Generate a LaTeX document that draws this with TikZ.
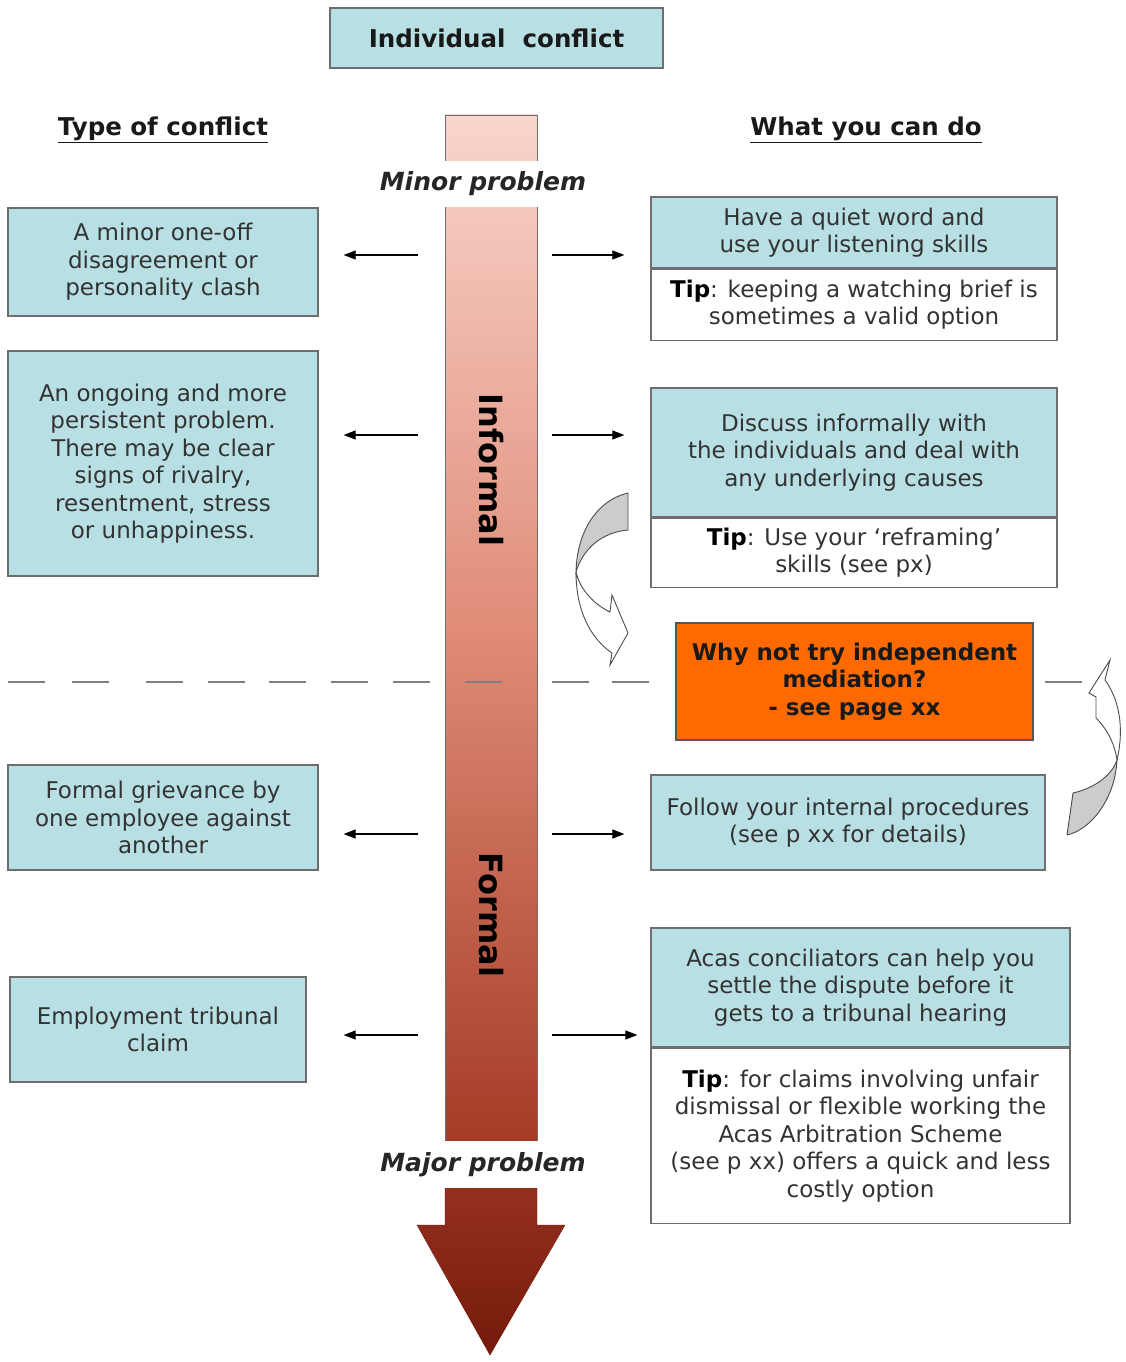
\documentclass[tikz,border=0pt]{standalone}
\usepackage{fontspec}
\setmainfont{DejaVu Sans}
\usetikzlibrary{arrows.meta,positioning}

\definecolor{boxblue}{HTML}{B8DFE3}
\definecolor{boxline}{HTML}{6E6E6E}
\definecolor{bodytext}{HTML}{333333}
\definecolor{mediation}{HTML}{FF6A00}
\definecolor{bartop}{HTML}{F9D5CD}
\definecolor{barmid}{HTML}{E08C78}
\definecolor{barbot}{HTML}{A53C26}
\definecolor{headtop}{HTML}{953020}
\definecolor{headbot}{HTML}{741A0A}

\newcommand\tiplabel{\textcolor{black}{\textbf{Tip}}:}

\tikzset{
  every node/.style={font=\fontsize{23}{27.5}\selectfont, text=bodytext},
  bluebox/.style={draw=boxline, fill=boxblue, line width=1.2pt, align=center, inner sep=0pt},
  tipbox/.style={bluebox, fill=white},
  heading/.style={font=\bfseries\fontsize{24.5}{28}\selectfont, text=black!90},
  scalelabel/.style={font=\bfseries\itshape\fontsize{25}{28}\selectfont, text=black!85, fill=white, inner xsep=2pt},
  stage/.style={rotate=-90, font=\bfseries\fontsize{32}{36}\selectfont, text=black},
  conn/.style={-{Triangle[length=12pt,width=9pt]}, line width=1.1pt},
  divider/.style={draw=gray, line width=1.3pt},
  twist/.style={draw=gray!60!black, line width=0.9pt}
}

\begin{document}
\begin{tikzpicture}[
      x=1pt, y=-1pt % pixel grid, y downwards
  ]
\useasboundingbox (0,0) rectangle (1126,1362);

% headings
\node[bluebox, minimum width=333, minimum height=60, heading] (title) at (496.5,38) {Individual\ \ conflict};
\node[heading] (typehd) at (163,130) {\underline{Type of conflict}};
\node[heading] (whathd) at (866,130) {\underline{What you can do}};

% the scale from minor to major
\node[draw=boxline, top color=bartop, bottom color=barbot, middle color=barmid,
      minimum width=92, minimum height=1026, inner sep=0pt] (bar) at (491,628) {};
\shade[top color=headtop, bottom color=headbot, draw=headbot]
  (445,1188) -- (537,1188) -- (537,1225) -- (565,1225) -- (490,1355) -- (417,1225) -- (445,1225) -- cycle;
\node[scalelabel, minimum height=46] (minor) at (483,184) {Minor problem};
\node[scalelabel, minimum height=47] (major) at (483,1164.5) {Major problem};
\node[stage] (informal) at (491,470) {Informal};
\node[stage] (formal) at (491,915) {Formal};

% informal / formal divide
\foreach \xa in {8,72,146,208,269,331,393,465,552,612,1045}
  \draw[divider] (\xa,682) -- ++(37,0);

% type of conflict
\node[bluebox, minimum width=310, minimum height=108] (lb1) at (163,262) {A minor one-off\\disagreement or\\personality clash};
\node[bluebox, minimum width=310, minimum height=225] (lb2) at (163,463.5) {An ongoing and more\\persistent problem.\\There may be clear\\signs of rivalry,\\resentment, stress\\or unhappiness.};
\node[bluebox, minimum width=310, minimum height=105] (lb3) at (163,817.5) {Formal grievance by\\one employee against\\another};
\node[bluebox, minimum width=296, minimum height=105] (lb4) at (158,1029.5) {Employment tribunal\\claim};

% what you can do
\node[bluebox, minimum width=406, minimum height=71] (rb1) at (854,232.5) {Have a quiet word and\\use your listening skills};
\node[tipbox, minimum width=406, minimum height=71, below=0pt of rb1] (tip1) {\tiplabel{} keeping a watching brief is\\sometimes a valid option};
\node[bluebox, minimum width=406, minimum height=129] (rb2) at (854,452.5) {Discuss informally with\\the individuals and deal with\\any underlying causes};
\node[tipbox, minimum width=406, minimum height=69, below=0pt of rb2] (tip2) {\tiplabel{} Use your ‘reframing’\\skills (see px)};
\node[bluebox, fill=mediation, draw=boxline!80!black, minimum width=357, minimum height=117,
      font=\bfseries\fontsize{23}{27.5}\selectfont, text=black!90] (med) at (854.5,681.5) {Why not try independent\\mediation?\\- see page xx};
\node[bluebox, minimum width=394, minimum height=95] (rb3) at (848,822.5) {Follow your internal procedures\\(see p xx for details)};
\node[bluebox, minimum width=419, minimum height=119] (rb4) at (860.5,987.5) {Acas conciliators can help you\\settle the dispute before it\\gets to a tribunal hearing};
\node[tipbox, minimum width=419, minimum height=175, below=0pt of rb4] (tip4) {\tiplabel{} for claims involving unfair\\dismissal or flexible working the\\Acas Arbitration Scheme\\(see p xx) offers a quick and less\\costly option};

% arrows out of the scale
\foreach \b/\yy/\gap in {lb1/255/25, lb2/435/25, lb3/834/25, lb4/1035/37}{
  \coordinate (\b-src) at (418,\yy);
  \draw[conn, shorten >=\gap pt] (\b-src) -- (\b-src -| \b.east);
}
\foreach \b/\yy/\gap in {rb1/255/26, rb2/435/26, rb3/834/26, rb4/1035/13}{
  \coordinate (\b-src) at (552,\yy);
  \draw[conn, shorten >=\gap pt] (\b-src) -- (\b-src -| \b.west);
}

% twisted arrows towards mediation
\filldraw[twist, fill=gray!40] (628,493) .. controls (598,500) and (577,530) .. (576,572)
  .. controls (583,548) and (603,532) .. (628,530) -- cycle;
\filldraw[twist, fill=white] (576,572) .. controls (576,610) and (590,638) .. (612,653)
  -- (610,665) -- (628,633) -- (612,595) -- (610,612) .. controls (595,605) and (580,590) .. (576,572);
\filldraw[twist, fill=gray!40] (1067,835) -- (1073,793) .. controls (1095,788) and (1112,775) .. (1117,760)
  .. controls (1115,800) and (1090,830) .. (1067,835);
\filldraw[twist, fill=white] (1117,760) .. controls (1125,725) and (1118,698) .. (1105,680)
  -- (1110,660) -- (1089,693) -- (1096,697) -- (1096,718) .. controls (1108,730) and (1115,745) .. (1117,760);

\end{tikzpicture}
\end{document}
